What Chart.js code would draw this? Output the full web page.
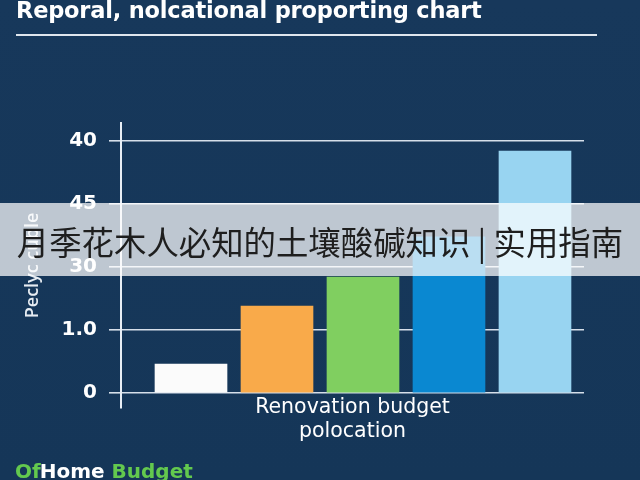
<!DOCTYPE html>
<html>
<head>
<meta charset="utf-8">
<script src="https://cdn.jsdelivr.net/npm/chart.js@4"></script>
<style>
  html, body { margin: 0; padding: 0; background: #16375a; }
  #wrap { position: relative; width: 640px; height: 480px; overflow: hidden;
    background: linear-gradient(180deg, #17385b 0%, #153658 100%); }
  #c { position: absolute; left: 0; top: 0; }
  #title { position: absolute; left: 16px; top: -1px; font-family: "DejaVu Sans", sans-serif;
    font-weight: 700; font-size: 22.5px; line-height: 22.5px; color: #ffffff; white-space: nowrap; letter-spacing: -0.2px; }
  #rule { position: absolute; left: 16px; top: 34px; width: 581px; height: 2px; background: #dfe6ee; }
  #banner { position: absolute; left: 0; top: 203px; width: 640px; height: 73px;
    background: rgba(255,255,255,0.72); }
  #bannerText { position: absolute; left: 0; top: 204px; width: 640px; height: 73px; line-height: 73px;
    text-align: center; font-family: "Noto Sans CJK SC", sans-serif; font-size: 32.4px; color: #1e1e1e;
    white-space: nowrap; }
  #brand { position: absolute; left: 15px; top: 461px; font-family: "DejaVu Sans", sans-serif;
    font-weight: 700; font-size: 20px; line-height: 20px; letter-spacing: 0px; white-space: nowrap; }
  #brand .g { color: #63c94e; }
  #brand .w { color: #ffffff; margin-left: -1px; }
</style>
</head>
<body>
<div id="wrap">
  <canvas id="c" width="640" height="480"></canvas>
  <div id="title">Reporal, nolcational proporting chart</div>
  <div id="rule"></div>
  <div id="banner"></div>
  <div id="bannerText">月季花木人必知的土壤酸碱知识 | 实用指南</div>
  <div id="brand"><span class="g">Of</span><span class="w">Home</span> <span class="g">Budget</span></div>
</div>
<script>
const categories = ["A", "B", "C", "D", "E"];
const values = [0.46, 1.38, 1.84, 2.48, 3.84];
const barColors = ["#fbfbfb", "#f9aa4a", "#80cf60", "#0a88d1", "#98d4f1"];
const tickPositions = [0, 1, 2, 3, 4];
const tickLabels = ["0", "1.0", "30", "45", "40"];
const yTitle = "Peclyc cuble";
const xTitle = ["Renovation budget", "polocation"];

const points = categories.map((c, i) => ({ x: i, y: values[i] }));

new Chart(document.getElementById("c"), {
  type: "bar",
  data: {
    datasets: [{
      data: points,
      backgroundColor: barColors,
      borderWidth: 0,
      barThickness: 72
    }]
  },
  options: {
    responsive: false,
    animation: false,
    devicePixelRatio: 1,
    layout: { padding: { left: 0, right: 56, top: 123, bottom: 0 } },
    plugins: { legend: { display: false }, tooltip: { enabled: false }, title: { display: false } },
    scales: {
      x: {
        type: "linear",
        offset: false,
        min: -0.814,
        max: 4.57,
        ticks: { display: false },
        grid: { display: false, drawTicks: false, offset: false },
        border: { display: false },
        afterFit: (s) => { s.height = 72; },
        title: {
          display: true,
          text: xTitle,
          color: "#ffffff",
          font: { family: "'DejaVu Sans', sans-serif", size: 20.5, lineHeight: 1.15 },
          padding: { top: 0, bottom: 37 }
        }
      },
      y: {
        min: -0.238,
        max: 4.286,
        afterBuildTicks: (s) => { s.ticks = tickPositions.map(v => ({ value: v })); },
        afterFit: (s) => { s.width = 121; },
        ticks: {
          color: "#ffffff",
          padding: 12,
          font: { family: "'DejaVu Sans', sans-serif", size: 20, weight: "bold" },
          callback: (v) => { const i = tickPositions.indexOf(v); return i >= 0 ? tickLabels[i] : ""; }
        },
        grid: { color: "rgba(235,242,250,0.9)", lineWidth: 1.6, tickLength: 12, drawOnChartArea: true },
        border: { display: true, color: "#e8eef5", width: 2 },
        title: {
          display: true,
          text: yTitle,
          color: "#e6ecf2",
          font: { family: "'Open Sans', 'DejaVu Sans', sans-serif", size: 18, weight: "600" },
          padding: { top: 22, bottom: 0 }
        }
      }
    }
  }
});
</script>
</body>
</html>
